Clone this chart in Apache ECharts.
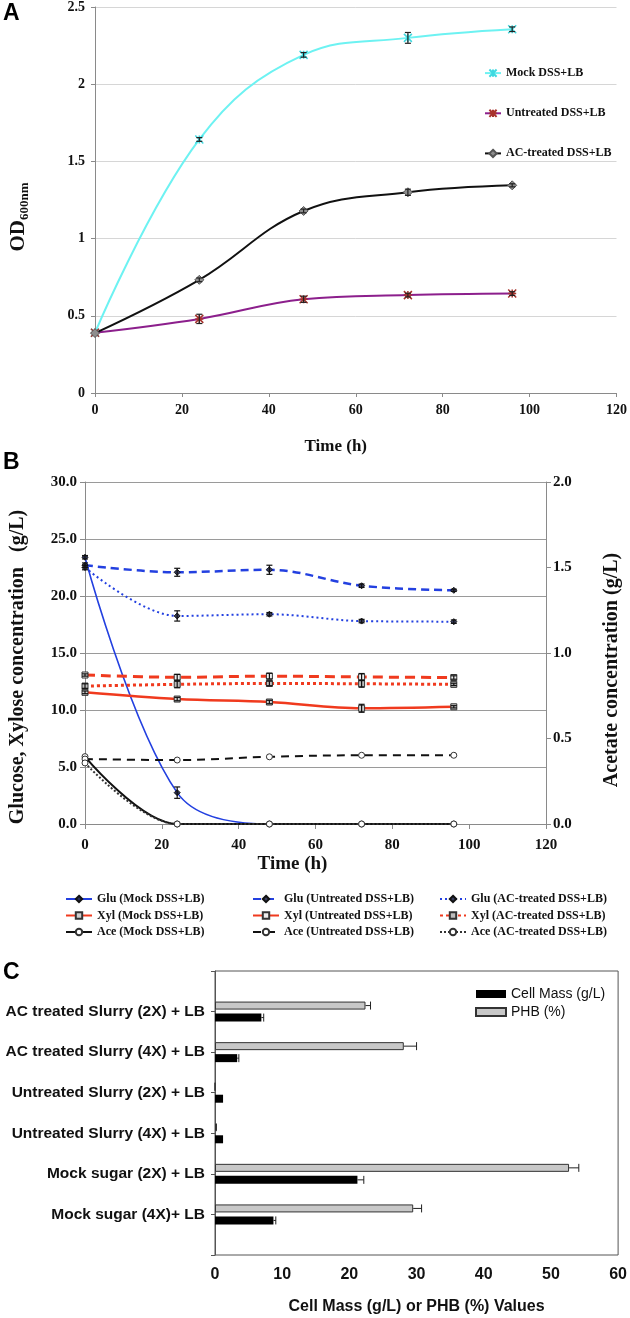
<!DOCTYPE html>
<html>
<head>
<meta charset="utf-8">
<script src="https://cdn.jsdelivr.net/npm/echarts@6/dist/echarts.min.js"></script>
<style>
html,body{margin:0;padding:0;background:#fff;}
#chart{width:630px;height:1318px;}
</style>
</head>
<body>
<div id="chart"></div>
<script>
// ---------- DATA ----------
const timeH = [0, 24, 48, 72, 96];

// Panel A: OD600
const mockOD = [0.39, 1.642, 2.19, 2.30, 2.356];
const untreatedOD = [0.39, 0.48, 0.607, 0.634, 0.644];
const acOD = [0.388, 0.733, 1.179, 1.30, 1.345];
const mockODErr = [0, 0.012, 0.015, 0.035, 0.015];
const untreatedODErr = [0, 0.03, 0.02, 0.012, 0.012];
const acODErr = [0, 0.012, 0.012, 0.02, 0.01];

// Panel B: sugars (g/L) and acetate (g/L)
const gluMock = [23.4, 2.75, 0, 0, 0];
const gluUntr = [22.7, 22.08, 22.3, 20.9, 20.5];
const gluAC = [22.5, 18.25, 18.4, 17.8, 17.75];
const xylMock = [11.55, 10.96, 10.7, 10.15, 10.28];
const xylUntr = [13.07, 12.87, 12.97, 12.9, 12.85];
const xylAC = [12.1, 12.25, 12.33, 12.3, 12.25];
const aceMock = [0.394, 0, 0, 0, 0];
const aceUntr = [0.38, 0.374, 0.393, 0.402, 0.402];
const aceAC = [0.357, 0, 0, 0, 0];
const gluMockErr = [0.15, 0.5, 0, 0, 0];
const gluUntrErr = [0.2, 0.35, 0.4, 0.15, 0.1];
const gluACErr = [0.2, 0.45, 0.15, 0.15, 0.15];
const xylMockErr = [0.12, 0.15, 0.15, 0.35, 0.1];
const xylUntrErr = [0.1, 0.25, 0.25, 0.3, 0.15];
const xylACErr = [0.2, 0.3, 0.2, 0.3, 0.1];

// Panel C
const conditions = ['AC treated Slurry (2X) + LB', 'AC treated Slurry (4X) + LB', 'Untreated Slurry (2X) + LB', 'Untreated Slurry (4X) + LB', 'Mock sugar (2X) + LB', 'Mock sugar (4X)+ LB'];
const cellMass = [6.9, 3.3, 1.2, 1.2, 21.2, 8.7];
const cellMassErr = [0.35, 0.25, 0, 0, 0.95, 0.35];
const phb = [22.4, 28.1, 0, 0.3, 52.7, 29.5];
const phbErr = [0.75, 1.9, 0, 0, 1.45, 1.25];

// ---------- HELPERS ----------
const SERIF = '"Liberation Serif", "Times New Roman", serif';
const SANS = '"Liberation Sans", Arial, sans-serif';
const catAxisData = [' '].concat(conditions, ['  ']);

function vErrSeries(ys, es, gi, yi, color) {
  return {
    type: 'custom', xAxisIndex: gi, yAxisIndex: yi, silent: true, z: 6,
    encode: { x: 0, y: 1 },
    data: timeH.map((t, i) => [t, ys[i], es[i]]),
    renderItem: function (params, api) {
      const x = api.value(0), y = api.value(1), e = api.value(2);
      if (!e) return null;
      const top = api.coord([x, y + e]);
      const bot = api.coord([x, y - e]);
      const w = 3;
      const st = { stroke: color, lineWidth: 1.2 };
      return { type: 'group', children: [
        { type: 'line', shape: { x1: top[0], y1: top[1], x2: bot[0], y2: bot[1] }, style: st },
        { type: 'line', shape: { x1: top[0] - w, y1: top[1], x2: top[0] + w, y2: top[1] }, style: st },
        { type: 'line', shape: { x1: bot[0] - w, y1: bot[1], x2: bot[0] + w, y2: bot[1] }, style: st }
      ]};
    }
  };
}

function hErrSeries(vals, es, off) {
  return {
    type: 'custom', xAxisIndex: 2, yAxisIndex: 3, silent: true, z: 6,
    encode: { x: 0, y: 1 },
    data: conditions.map((c, i) => [vals[i], c, es[i]]),
    renderItem: function (params, api) {
      const v = api.value(0), e = api.value(2);
      if (!e) return null;
      const p0 = api.coord([v, api.value(1)]);
      const p1 = api.coord([v + e, api.value(1)]);
      const y = p0[1] + off;
      const h = 4;
      const st = { stroke: '#222', lineWidth: 1 };
      return { type: 'group', children: [
        { type: 'line', shape: { x1: p0[0], y1: y, x2: p1[0], y2: y }, style: st },
        { type: 'line', shape: { x1: p1[0], y1: y - h, x2: p1[0], y2: y + h }, style: st }
      ]};
    }
  };
}

const asterisk = 'path://M0,0L10,10M10,0L0,10M5,0L5,10M0,5L10,5';
const xMark = 'path://M0,0L10,10M10,0L0,10M5,0L5,10';

const axisGray = '#8a8a8a';
const serifLabel = { fontFamily: SERIF, fontWeight: 'bold', color: '#111' };

function lineB(name, data, yi, color, width, type, symbol, symFill, symBorder) {
  return {
    name: name, type: 'line', xAxisIndex: 1, yAxisIndex: yi,
    data: timeH.map((t, i) => [t, data[i]]),
    smooth: 0.35, symbol: symbol, symbolSize: 6, showSymbol: true,
    lineStyle: { color: color, width: width, type: type },
    itemStyle: { color: symFill, borderColor: symBorder, borderWidth: 1 },
    z: 3
  };
}

const BLUE = '#2340e0', RED = '#f03a1e', BLK = '#111';
const legendB = { orient: 'vertical', padding: 0, itemGap: 4.5, itemWidth: 26, itemHeight: 8,
  textStyle: { fontFamily: SERIF, fontWeight: 'bold', fontSize: 12, color: '#111' } };

const option = {
  animation: false,
  backgroundColor: '#fff',
  graphic: [
    { type: 'text', left: 3, top: 2, style: { text: 'A', font: 'bold 23px ' + SANS, fill: '#000' } },
    { type: 'text', left: 3, top: 451, style: { text: 'B', font: 'bold 23px ' + SANS, fill: '#000' } },
    { type: 'text', left: 3, top: 961, style: { text: 'C', font: 'bold 23px ' + SANS, fill: '#000' } }
  ],
  grid: [
    { left: 95, right: 12, top: 7, height: 386 },
    { left: 79, right: 78, top: 482, height: 342 },
    { left: 215, right: 11, top: 971, height: 284, show: true, borderColor: '#555', borderWidth: 1, backgroundColor: 'transparent' }
  ],
  legend: [
    { left: 484, top: 67, orient: 'vertical', padding: 0, itemGap: 28, itemWidth: 16, itemHeight: 9,
      textStyle: { fontFamily: SERIF, fontWeight: 'bold', fontSize: 12, color: '#111' },
      data: ['Mock DSS+LB', 'Untreated DSS+LB', 'AC-treated DSS+LB'] },
    Object.assign({ left: 65, top: 893, data: ['Glu (Mock DSS+LB)', 'Xyl (Mock DSS+LB)', 'Ace (Mock DSS+LB)'] }, legendB),
    Object.assign({ left: 252, top: 893, data: ['Glu (Untreated DSS+LB)', 'Xyl (Untreated DSS+LB)', 'Ace (Untreated DSS+LB)'] }, legendB),
    Object.assign({ left: 439, top: 893, data: ['Glu (AC-treated DSS+LB)', 'Xyl (AC-treated DSS+LB)', 'Ace (AC-treated DSS+LB)'] }, legendB),
    { left: 475, top: 987, orient: 'vertical', padding: 0, itemGap: 4, itemWidth: 30, itemHeight: 8, icon: 'rect',
      textStyle: { fontFamily: SANS, fontSize: 14, color: '#111' },
      data: ['Cell Mass (g/L)', 'PHB (%)'] }
  ],
  xAxis: [
    { gridIndex: 0, type: 'value', min: 0, max: 120, interval: 20,
      axisLine: { lineStyle: { color: axisGray } },
      axisTick: { length: 4, lineStyle: { color: axisGray } },
      axisLabel: Object.assign({ fontSize: 14, margin: 10 }, serifLabel),
      splitLine: { show: false },
      name: 'Time (h)', nameLocation: 'middle', nameGap: 45,
      nameTextStyle: { fontFamily: SERIF, fontWeight: 'bold', fontSize: 17, color: '#111', padding: [0, 40, 0, 0] } },
    { gridIndex: 1, type: 'value', min: 0, max: 120, interval: 20,
      axisLine: { lineStyle: { color: axisGray } },
      axisTick: { length: 5, lineStyle: { color: axisGray } },
      axisLabel: Object.assign({ fontSize: 15, margin: 14 }, serifLabel),
      splitLine: { show: false },
      name: 'Time (h)', nameLocation: 'middle', nameGap: 31,
      nameTextStyle: { fontFamily: SERIF, fontWeight: 'bold', fontSize: 19, color: '#111', padding: [0, 46, 0, 0] } },
    { gridIndex: 2, type: 'value', min: 0, max: 60, interval: 10,
      axisLine: { lineStyle: { color: '#555' } },
      axisTick: { length: 5, lineStyle: { color: '#555' } },
      axisLabel: { fontFamily: SANS, fontWeight: 'bold', fontSize: 16, color: '#111', margin: 12 },
      splitLine: { show: false },
      name: 'Cell Mass (g/L) or PHB (%) Values', nameLocation: 'middle', nameGap: 44,
      nameTextStyle: { fontFamily: SANS, fontWeight: 'bold', fontSize: 16, color: '#111' } }
  ],
  yAxis: [
    { gridIndex: 0, type: 'value', min: 0, max: 2.5, interval: 0.5,
      axisLine: { show: true, lineStyle: { color: axisGray } },
      axisTick: { show: true, length: 4, lineStyle: { color: axisGray } },
      axisLabel: Object.assign({ fontSize: 14, margin: 10 }, serifLabel),
      splitLine: { lineStyle: { color: '#d6d6d6' } },
      name: '{a|OD}{b|600nm}', nameLocation: 'middle', nameGap: 64,
      nameTextStyle: { padding: [0, 34, 0, 0], rich: {
        a: { fontFamily: SERIF, fontWeight: 'bold', fontSize: 21, color: '#111', lineHeight: 24 },
        b: { fontFamily: SERIF, fontWeight: 'bold', fontSize: 13, color: '#111', lineHeight: 13, verticalAlign: 'bottom' } } } },
    { gridIndex: 1, type: 'value', min: 0, max: 30, interval: 5,
      axisLine: { show: true, lineStyle: { color: axisGray } },
      axisTick: { show: true, length: 5, lineStyle: { color: axisGray } },
      axisLabel: Object.assign({ fontSize: 15, margin: 8, formatter: v => v.toFixed(1) }, serifLabel),
      splitLine: { lineStyle: { color: '#9a9a9a' } },
      name: 'Glucose, Xylose concentration   (g/L)', nameLocation: 'middle', nameGap: 57,
      nameTextStyle: { fontFamily: SERIF, fontWeight: 'bold', fontSize: 20, color: '#111', padding: [0, 28, 0, 0] } },
    { gridIndex: 1, type: 'value', position: 'right', min: 0, max: 2, interval: 0.5,
      axisLine: { show: true, lineStyle: { color: axisGray } },
      axisTick: { show: true, length: 5, lineStyle: { color: axisGray } },
      axisLabel: Object.assign({ fontSize: 15, margin: 7, formatter: v => v.toFixed(1) }, serifLabel),
      splitLine: { show: false },
      name: 'Acetate concentration (g/L)', nameLocation: 'middle', nameGap: 56,
      nameTextStyle: { fontFamily: SERIF, fontWeight: 'bold', fontSize: 20, color: '#111', padding: [0, 34, 0, 0] } },
    { gridIndex: 2, type: 'category', inverse: true, boundaryGap: false, data: catAxisData,
      axisLine: { lineStyle: { color: '#555' } },
      axisTick: { length: 4, lineStyle: { color: '#555' } },
      axisLabel: { fontFamily: SANS, fontWeight: 'bold', fontSize: 15.5, color: '#111', margin: 10, interval: 0 },
      splitLine: { show: false } }
  ],
  series: [
    // Panel A
    { name: 'Mock DSS+LB', type: 'line', xAxisIndex: 0, yAxisIndex: 0, smooth: 0.4,
      data: timeH.map((t, i) => [t, mockOD[i]]),
      symbol: xMark, symbolSize: 8,
      lineStyle: { color: '#6df2f2', width: 2 },
      itemStyle: { color: 'none', borderColor: '#3fd9e0', borderWidth: 1.5 } },
    { name: 'Untreated DSS+LB', type: 'line', xAxisIndex: 0, yAxisIndex: 0, smooth: 0.4,
      data: timeH.map((t, i) => [t, untreatedOD[i]]),
      symbol: asterisk, symbolSize: 8,
      lineStyle: { color: '#8c1f8c', width: 2 },
      itemStyle: { color: 'none', borderColor: '#a8322c', borderWidth: 1.5 } },
    { name: 'AC-treated DSS+LB', type: 'line', xAxisIndex: 0, yAxisIndex: 0, smooth: 0.4,
      data: timeH.map((t, i) => [t, acOD[i]]),
      symbol: 'diamond', symbolSize: 9,
      lineStyle: { color: '#111', width: 2 },
      itemStyle: { color: '#8e8e8e', borderColor: '#555', borderWidth: 1 } },
    vErrSeries(mockOD, mockODErr, 0, 0, '#222'),
    vErrSeries(untreatedOD, untreatedODErr, 0, 0, '#222'),
    vErrSeries(acOD, acODErr, 0, 0, '#222'),

    // Panel B
    lineB('Glu (Mock DSS+LB)', gluMock, 1, BLUE, 1.6, 'solid', 'diamond', '#2a2f55', '#111'),
    lineB('Glu (Untreated DSS+LB)', gluUntr, 1, BLUE, 2.5, [8, 5], 'diamond', '#3a3f60', '#111'),
    lineB('Glu (AC-treated DSS+LB)', gluAC, 1, BLUE, 2, [2, 3], 'diamond', '#3a3f60', '#111'),
    lineB('Xyl (Mock DSS+LB)', xylMock, 1, RED, 2.5, 'solid', 'rect', '#cfcfcf', '#333'),
    lineB('Xyl (Untreated DSS+LB)', xylUntr, 1, RED, 3, [10, 6], 'rect', '#eeeeee', '#333'),
    lineB('Xyl (AC-treated DSS+LB)', xylAC, 1, RED, 3, [3, 3], 'rect', '#bdbdbd', '#333'),
    lineB('Ace (Mock DSS+LB)', aceMock, 2, BLK, 2, 'solid', 'circle', '#ffffff', '#333'),
    lineB('Ace (Untreated DSS+LB)', aceUntr, 2, BLK, 2, [8, 6], 'circle', '#ffffff', '#333'),
    lineB('Ace (AC-treated DSS+LB)', aceAC, 2, '#333', 2, [2, 2], 'circle', '#ffffff', '#333'),
    vErrSeries(gluMock, gluMockErr, 1, 1, '#111'),
    vErrSeries(gluUntr, gluUntrErr, 1, 1, '#111'),
    vErrSeries(gluAC, gluACErr, 1, 1, '#111'),
    vErrSeries(xylMock, xylMockErr, 1, 1, '#111'),
    vErrSeries(xylUntr, xylUntrErr, 1, 1, '#111'),
    vErrSeries(xylAC, xylACErr, 1, 1, '#111'),

    // Panel C
    { name: 'PHB (%)', type: 'bar', xAxisIndex: 2, yAxisIndex: 3,
      data: conditions.map((c, i) => [phb[i], c]), encode: { x: 0, y: 1 },
      barWidth: 8, barGap: '50%',
      itemStyle: { color: '#c8c8c8', borderColor: '#333', borderWidth: 1 } },
    { name: 'Cell Mass (g/L)', type: 'bar', xAxisIndex: 2, yAxisIndex: 3,
      data: conditions.map((c, i) => [cellMass[i], c]), encode: { x: 0, y: 1 },
      barWidth: 8, barGap: '50%',
      itemStyle: { color: '#000', borderColor: '#000', borderWidth: 0 } },
    hErrSeries(phb, phbErr, -6),
    hErrSeries(cellMass, cellMassErr, 6)
  ]
};

const chart = echarts.init(document.getElementById('chart'), null, { renderer: 'canvas' });
chart.setOption(option);
</script>
</body>
</html>
